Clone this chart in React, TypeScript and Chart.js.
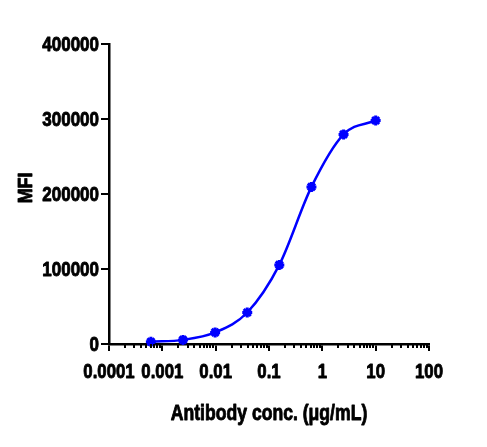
import React, { useEffect, useRef } from 'react';
import { Chart, registerables, type ChartConfiguration } from 'chart.js';

Chart.register(...registerables);

// antibody concentration (µg/mL), 4-fold serial dilution from 10
const concentrations = [0.00061, 0.00244, 0.00977, 0.0391, 0.156, 0.625, 2.5, 10];
// mean fluorescence intensity
const mfiValues = [3000, 5500, 15500, 42000, 105500, 209500, 279500, 298000];

const xDecades = [0.0001, 0.001, 0.01, 0.1, 1, 10, 100];
const xTickLabels = ['0.0001', '0.001', '0.01', '0.1', '1', '10', '100'];
const xMinorSteps = [2, 3, 4, 5, 6, 7, 8, 9];
const yTicks = [0, 100000, 200000, 300000, 400000];
const yTickLabels = ['0', '100000', '200000', '300000', '400000'];

const xTitle = 'Antibody conc. (μg/mL)';
const yTitle = 'MFI';

const FONT = "'Liberation Sans', Arial, sans-serif";
const BLUE = '#0000ff';

const isDecade = (v: number) => xDecades.some((d) => Math.abs(d - v) / d < 1e-6);

// the original uses a narrow heavy sans, so text is squeezed and thickened a bit
function drawText(
  ctx: CanvasRenderingContext2D,
  text: string,
  x: number,
  y: number,
  size: number,
  squeeze: number,
  align: CanvasTextAlign,
  rotate = 0
) {
  ctx.save();
  ctx.translate(x, y);
  if (rotate) ctx.rotate(rotate);
  ctx.scale(squeeze, 1);
  ctx.font = `bold ${size}px ${FONT}`;
  ctx.textAlign = align;
  ctx.textBaseline = 'alphabetic';
  ctx.fillStyle = '#000';
  ctx.strokeStyle = '#000';
  ctx.lineWidth = 0.9;
  ctx.lineJoin = 'round';
  ctx.fillText(text, 0, 0);
  ctx.strokeText(text, 0, 0);
  ctx.restore();
}

const axisText = {
  id: 'axisText',
  afterDraw(chart: Chart) {
    const { ctx, chartArea } = chart;
    const x = chart.scales.x;
    const y = chart.scales.y;

    // minor ticks on the log axis are shorter than the decade ticks
    ctx.save();
    ctx.strokeStyle = '#000';
    ctx.lineWidth = 2;
    x.ticks.forEach((t) => {
      if (isDecade(t.value)) return;
      const px = Math.round(x.getPixelForValue(t.value));
      ctx.beginPath();
      ctx.moveTo(px, chartArea.bottom);
      ctx.lineTo(px, chartArea.bottom + 4);
      ctx.stroke();
    });
    ctx.restore();

    xDecades.forEach((d, i) => {
      drawText(ctx, xTickLabels[i], x.getPixelForValue(d), chartArea.bottom + 34, 21, 0.8, 'center');
    });
    yTicks.forEach((v, i) => {
      drawText(ctx, yTickLabels[i], chartArea.left - 10, y.getPixelForValue(v) + 7, 20, 0.85, 'right');
    });

    const midX = (chartArea.left + chartArea.right) / 2;
    const midY = (chartArea.top + chartArea.bottom) / 2;
    drawText(ctx, xTitle, midX, chartArea.bottom + 76, 22, 0.8, 'center');
    drawText(ctx, yTitle, 32, midY - 6, 21, 0.85, 'center', -Math.PI / 2);
  },
};

export default function App() {
  const canvasRef = useRef<HTMLCanvasElement | null>(null);
  const chartRef = useRef<Chart | null>(null);

  useEffect(() => {
    document.body.style.margin = '0';
    document.body.style.overflow = 'hidden';
    if (!canvasRef.current) return;

    const points = concentrations.map((c, i) => ({ x: c, y: mfiValues[i] }));

    const config: ChartConfiguration<'line'> = {
      type: 'line',
      data: {
        datasets: [
          {
            data: points,
            borderColor: BLUE,
            backgroundColor: BLUE,
            borderWidth: 2.5,
            cubicInterpolationMode: 'monotone',
            pointStyle: 'star',
            pointRadius: 5,
            pointBorderWidth: 3,
            pointBorderColor: BLUE,
            clip: false,
          },
        ],
      },
      options: {
        responsive: false,
        animation: false,
        layout: { padding: { left: 0, top: 44, right: 58, bottom: 0 } },
        plugins: {
          legend: { display: false },
          tooltip: { enabled: false },
        },
        scales: {
          x: {
            type: 'logarithmic',
            min: 0.0001,
            max: 100,
            afterBuildTicks: (scale) => {
              const ticks: { value: number }[] = [];
              xDecades.forEach((d, i) => {
                ticks.push({ value: d });
                if (i < xDecades.length - 1) {
                  xMinorSteps.forEach((m) => ticks.push({ value: +(d * m).toPrecision(6) }));
                }
              });
              scale.ticks = ticks;
            },
            afterFit: (scale) => {
              scale.height = 103;
            },
            grid: {
              display: true,
              drawOnChartArea: false,
              drawTicks: true,
              tickLength: 7,
              lineWidth: 2,
              tickColor: (ctx: any) => (ctx.tick && isDecade(ctx.tick.value) ? '#000' : 'rgba(0,0,0,0)'),
            },
            border: { display: true, color: '#000', width: 2.5 },
            ticks: { display: false, autoSkip: false },
            title: { display: false },
          },
          y: {
            type: 'linear',
            min: 0,
            max: 400000,
            afterBuildTicks: (scale) => {
              scale.ticks = yTicks.map((v) => ({ value: v }));
            },
            afterFit: (scale) => {
              scale.width = 109;
            },
            grid: {
              display: true,
              drawOnChartArea: false,
              drawTicks: true,
              tickLength: 8,
              lineWidth: 2,
              tickColor: '#000',
            },
            border: { display: true, color: '#000', width: 2.5 },
            ticks: { display: false },
            title: { display: false },
          },
        },
      },
      plugins: [axisText],
    };

    chartRef.current = new Chart(canvasRef.current, config);

    return () => {
      if (chartRef.current) {
        chartRef.current.destroy();
        chartRef.current = null;
      }
    };
  }, []);

  return <canvas ref={canvasRef} width={487} height={447} style={{ display: 'block' }} />;
}
